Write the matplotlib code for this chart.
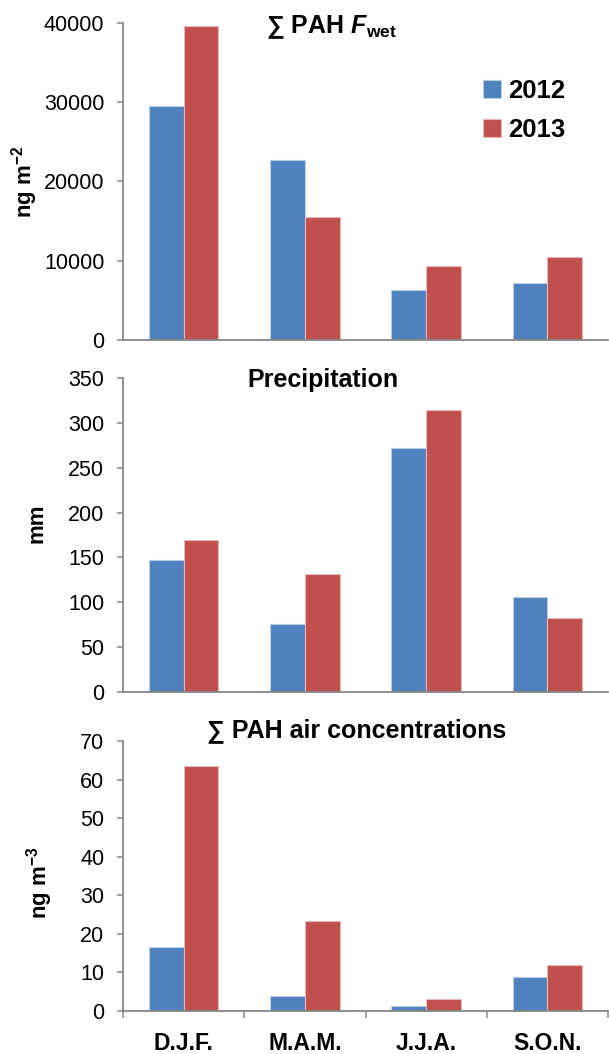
"""Seasonal PAH wet deposition, precipitation and air concentrations (2012 vs 2013)."""

import matplotlib.pyplot as plt
import numpy as np

plt.rcParams["font.family"] = ["Liberation Sans", "DejaVu Sans"]
plt.rcParams["mathtext.fontset"] = "custom"
plt.rcParams["mathtext.rm"] = "Liberation Sans"
plt.rcParams["mathtext.bf"] = "Liberation Sans:bold"
plt.rcParams["mathtext.it"] = "Liberation Sans:italic"
plt.rcParams["mathtext.bfit"] = "Liberation Sans:bold:italic"

seasons = ["D.J.F.", "M.A.M.", "J.J.A.", "S.O.N."]
years = ["2012", "2013"]

fwet_2012 = [29500, 22650, 6300, 7230]
fwet_2013 = [39600, 15500, 9400, 10500]

precip_2012 = [147, 76, 272, 106]
precip_2013 = [169, 131, 314, 82]

air_2012 = [16.7, 4.0, 1.3, 8.8]
air_2013 = [63.6, 23.4, 3.2, 11.8]

BLUE = "#4F81BD"
RED = "#C0504D"
BLUE_EDGE = "#B9CDE5"
RED_EDGE = "#E6B9B8"
AXIS_GRAY = "#868686"

W, H = 609, 1054


def fx(x):
    return x / W


def fy(y):
    return 1 - y / H


fig = plt.figure(figsize=(W / 100, H / 100), dpi=100)

# axes boxes in pixel coordinates (left, top, right, bottom)
boxes = [(123, 23, 608, 340), (123, 378, 608, 692), (123, 741, 608, 1011)]
axes = []
for l, t, r, b in boxes:
    axes.append(fig.add_axes([fx(l), fy(b), (r - l) / W, (b - t) / H]))

panels = [
    (fwet_2012, fwet_2013, 40000, 10000),
    (precip_2012, precip_2013, 350, 50),
    (air_2012, air_2013, 70, 10),
]

x = np.arange(len(seasons))
bw = 1 / 3.5

for ax, (v12, v13, ymax, step) in zip(axes, panels):
    ax.bar(x - bw / 2, v12, bw, color=BLUE, edgecolor=BLUE_EDGE, linewidth=0.8, label=years[0])
    ax.bar(x + bw / 2, v13, bw, color=RED, edgecolor=RED_EDGE, linewidth=0.8, label=years[1])
    ax.set_xlim(-0.5, len(seasons) - 0.5)
    ax.set_ylim(0, ymax)
    ax.set_yticks(np.arange(0, ymax + step, step))
    for s in ("top", "right"):
        ax.spines[s].set_visible(False)
    for s in ("left", "bottom"):
        ax.spines[s].set_color(AXIS_GRAY)
        ax.spines[s].set_linewidth(1.3)
    ax.tick_params(axis="y", direction="out", length=4.5, width=1.1, color=AXIS_GRAY,
                   labelsize=15.5, pad=9)
    ax.set_xticks([])

# bottom panel: category labels with separator ticks
ax = axes[2]
ax.set_xticks(x)
ax.set_xticklabels(seasons, fontsize=16.5, fontweight="bold")
ax.set_xticks(np.arange(-0.5, len(seasons)), minor=True)
ax.tick_params(axis="x", which="major", length=0, pad=15)
ax.tick_params(axis="x", which="minor", direction="out", length=5, width=1.1, color=AXIS_GRAY)

# panel titles
fig.text(fx(331), fy(27), r"∑ PAH $\mathbfit{F}_{\mathbf{wet}}$", fontsize=18,
         fontweight="bold", ha="center", va="center")
fig.text(fx(323), fy(380), "Precipitation", fontsize=18, fontweight="bold",
         ha="center", va="center")
fig.text(fx(357), fy(731), "∑ PAH air concentrations", fontsize=18, fontweight="bold",
         ha="center", va="center")

# y labels
fig.text(fx(25), fy(182), r"ng m$^{\mathbf{-2}}$", fontsize=16, fontweight="bold",
         rotation=90, ha="center", va="center")
fig.text(fx(37), fy(523), "mm", fontsize=16, fontweight="bold",
         rotation=90, ha="center", va="center")
fig.text(fx(40), fy(883), r"ng m$^{\mathbf{-3}}$", fontsize=16, fontweight="bold",
         rotation=90, ha="center", va="center")

# legend (top panel)
axes[0].legend(loc="upper left", bbox_to_anchor=((470 - 123) / 485, (340 - 66) / 317),
               frameon=False, prop={"size": 18.5, "weight": "bold"}, handlelength=0.7,
               handleheight=0.7, handletextpad=0.3, labelspacing=0.6, borderpad=0)

fig.savefig("out.png", dpi=100)
